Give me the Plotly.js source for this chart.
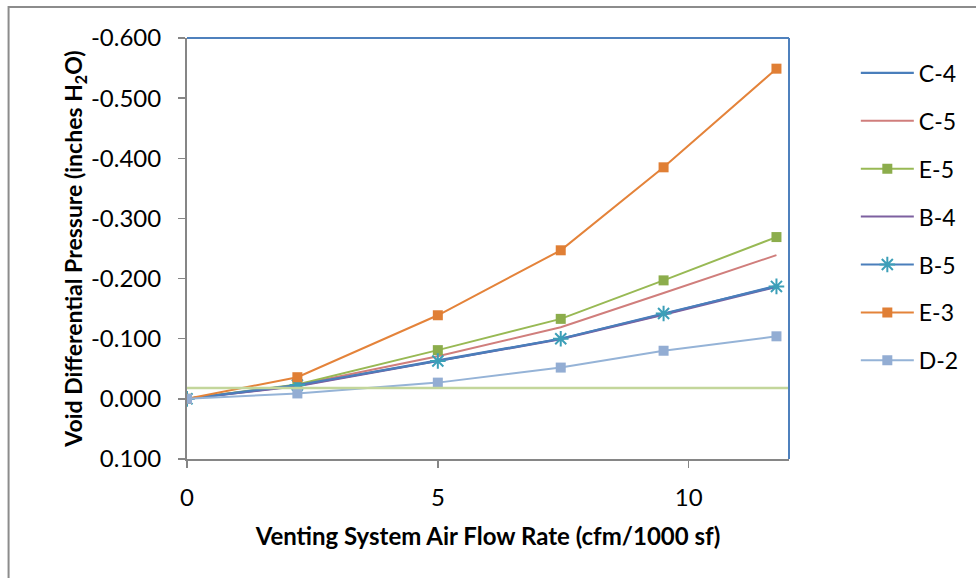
<!DOCTYPE html>
<html>
<head>
<meta charset="utf-8">
<script src="https://cdn.plot.ly/plotly-3.0.1.min.js"></script>
<style>
html,body{margin:0;padding:0;background:#fff;}
#chart{width:976px;height:578px;}
</style>
</head>
<body>
<div id="chart"></div>
<script>
// Air flow rate (cfm/1000 sf)
const flowRate = [0, 2.2, 5.0, 7.45, 9.5, 11.75];

// Void differential pressure (inches H2O)
const seriesNames = ['C-4', 'C-5', 'E-5', 'B-4', 'B-5', 'E-3', 'D-2'];
const c4 = [0, -0.022, -0.064, -0.100, -0.141, -0.188];
const c5 = [0, -0.023, -0.071, -0.119, -0.176, -0.239];
const e5 = [0, -0.024, -0.081, -0.133, -0.197, -0.269];
const b4 = [0, -0.021, -0.063, -0.099, -0.140, -0.186];
const b5 = [0, -0.023, -0.063, -0.100, -0.142, -0.187];
const e3 = [0, -0.036, -0.139, -0.247, -0.385, -0.549];
const d2 = [0, -0.009, -0.027, -0.052, -0.080, -0.104];

// reference level line
const refX = [0, 12];
const refY = [-0.018, -0.018];

const yTickVals = [-0.6, -0.5, -0.4, -0.3, -0.2, -0.1, 0, 0.1];
const yTickText = ['-0.600', '-0.500', '-0.400', '-0.300', '-0.200', '-0.100', '0.000', '0.100'];
const xTickVals = [0, 5, 10];

const FONT = 'Lato, "Open Sans", sans-serif';

function tr(name, y, color, lw, marker, group) {
  const t = {
    x: flowRate, y: y, name: name, type: 'scatter',
    mode: marker ? 'lines+markers' : 'lines',
    line: {color: color, width: lw},
    legendgroup: group
  };
  if (marker) t.marker = marker;
  return t;
}

const data = [
  tr(seriesNames[0], c4, '#4a7ebb', 2.2, null, 'g1'),
  tr(seriesNames[1], c5, '#d07e7c', 2, null, 'g2'),
  tr(seriesNames[2], e5, '#98b954', 2, {symbol: 'square', size: 10, color: '#8cad4c'}, 'g3'),
  tr(seriesNames[3], b4, '#7d60a0', 2, null, 'g4'),
  tr(seriesNames[4], b5, '#4a7ebb', 2.2, {symbol: 'asterisk-open', size: 13, color: '#3c9fb8', line: {color: '#3c9fb8', width: 2}}, 'g5'),
  tr(seriesNames[5], e3, '#e4833a', 2, {symbol: 'square', size: 10, color: '#e07f35'}, 'g6'),
  tr(seriesNames[6], d2, '#95b3d7', 2, {symbol: 'square', size: 10, color: '#93add3'}, 'g7'),
  {x: refX, y: refY, type: 'scatter', mode: 'lines', line: {color: '#c3d69b', width: 2.5}, showlegend: false, hoverinfo: 'skip'}
];

const layout = {
  width: 976, height: 578,
  margin: {l: 187, r: 185, t: 38, b: 119, pad: 0},
  paper_bgcolor: '#ffffff', plot_bgcolor: '#ffffff',
  font: {family: FONT, size: 23, color: '#000000'},
  showlegend: true,
  legend: {
    x: 1.111, xanchor: 'left', y: 0.968, yanchor: 'top',
    font: {family: FONT, size: 23, color: '#000000'},
    itemwidth: 53, tracegroupgap: 15, bgcolor: 'rgba(0,0,0,0)'
  },
  xaxis: {
    range: [0, 12], tickvals: xTickVals, ticks: 'outside', ticklen: 7, tickwidth: 1.5,
    tickcolor: '#868686', showline: true, linecolor: '#868686', linewidth: 2,
    showgrid: false, zeroline: false, tickfont: {family: FONT, size: 24},
    ticklabelstandoff: 9,
    title: {text: '<b>Venting System Air Flow Rate (cfm/1000 sf)</b>', font: {family: FONT, size: 24}, standoff: 18}
  },
  yaxis: {
    range: [0.1, -0.6], tickvals: yTickVals, ticktext: yTickText, ticks: 'outside', ticklen: 7, tickwidth: 1.5,
    tickcolor: '#868686', showline: true, linecolor: '#868686', linewidth: 2,
    showgrid: false, zeroline: false, tickfont: {family: FONT, size: 24},
    ticklabelstandoff: 12,
    title: {text: '<b>Void Differential Pressure (inches H<sub>2</sub>O)</b>', font: {family: FONT, size: 23}, standoff: 2}
  },
  shapes: [
    {type: 'line', xref: 'paper', yref: 'paper', x0: 0, x1: 1, y0: 1, y1: 1, line: {color: '#4f81bd', width: 2}},
    {type: 'line', xref: 'paper', yref: 'paper', x0: 1, x1: 1, y0: 0, y1: 1, line: {color: '#4f81bd', width: 2}},
    {type: 'rect', xref: 'paper', yref: 'paper', x0: -0.2964, x1: 3, y0: -2, y1: 1.0736, line: {color: '#8c8c8c', width: 2}, fillcolor: 'rgba(0,0,0,0)'}
  ]
};

Plotly.newPlot('chart', data, layout, {staticPlot: true, displayModeBar: false});
</script>
</body>
</html>
